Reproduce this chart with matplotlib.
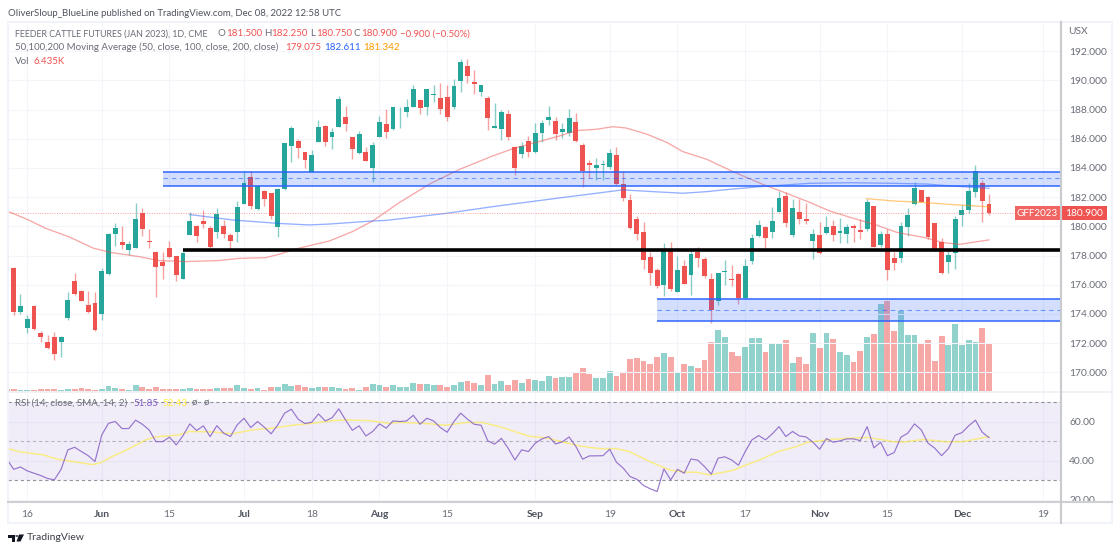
# -*- coding: utf-8 -*-
# Feeder cattle daily chart, TradingView look
import matplotlib
matplotlib.use('Agg')
import matplotlib.pyplot as plt
from matplotlib.lines import Line2D
from matplotlib.patches import Rectangle, Polygon, Circle

plt.rcParams['font.family'] = ['Lato', 'DejaVu Sans']

# candles, one value per trading day
opens = [178.11,177.13,174.16,173.07,174.55,172.70,172.06,172.40,172.08,173.73,
         176.29,175.60,174.60,174.76,174.00,176.74,179.48,178.96,178.41,178.55,
         180.90,179.00,178.25,177.56,178.52,177.95,176.40,179.41,180.00,180.35,
         179.87,179.62,180.05,179.44,179.60,181.54,183.41,181.19,182.45,182.27,
         179.94,182.54,185.48,185.85,185.07,183.75,185.78,186.90,186.12,186.83,
         187.47,186.10,185.00,185.07,183.97,186.12,187.03,186.65,188.02,187.86,
         188.18,188.63,188.18,189.02,188.77,188.86,188.18,189.98,190.98,189.91,
         189.23,188.77,186.76,186.69,187.67,185.46,184.96,185.85,185.09,186.42,
         187.31,187.19,186.47,186.38,187.18,185.56,184.32,183.98,184.23,184.04,
         184.89,182.91,181.83,180.53,179.60,177.91,177.04,175.97,178.34,175.53,
         177.29,176.67,178.25,177.77,176.42,174.92,176.88,176.42,176.77,175.10,
         177.61,179.32,179.96,179.62,180.99,182.08,179.42,181.01,180.53,179.02,
         179.41,179.52,180.00,179.57,179.50,180.00,179.75,179.80,181.39,178.75,
         179.48,177.81,177.83,179.98,181.51,182.49,182.03,180.21,178.95,177.54,
         178.20,180.80,181.14,182.35,182.95,181.50]
closes = [177.18,174.16,174.55,173.66,172.97,172.45,171.67,171.29,172.45,174.98,
          175.37,174.92,174.12,172.91,176.95,179.48,179.87,178.75,178.77,180.49,
          179.82,178.96,177.20,177.27,177.91,176.67,178.20,180.39,179.34,180.19,
          178.57,180.85,179.50,178.98,181.35,182.95,181.40,182.79,181.86,180.71,
          182.54,185.69,186.71,185.34,184.52,184.89,186.81,185.78,186.46,188.75,
          187.01,185.30,186.33,184.50,185.55,187.15,186.44,188.18,188.06,188.18,
          189.43,188.13,189.39,189.07,188.04,187.49,189.61,191.26,190.30,189.75,
          189.68,187.45,186.87,187.83,186.12,184.00,185.50,185.12,186.42,187.08,
          187.47,186.30,186.70,187.40,185.87,183.77,184.23,184.23,184.28,185.01,
          182.91,181.93,179.92,179.46,177.70,176.81,175.94,178.43,175.69,177.04,
          176.08,178.09,177.84,176.60,174.28,176.79,176.95,176.31,175.10,177.29,
          179.21,180.08,179.23,180.39,181.97,180.26,181.26,180.49,180.39,179.45,
          178.18,179.98,179.41,179.66,179.93,179.91,179.64,181.69,178.61,179.48,
          177.01,177.49,180.00,180.78,182.63,181.69,179.25,178.31,176.83,178.02,
          180.48,181.10,182.44,183.79,181.76,180.90]
highs = [178.20,177.20,175.35,173.93,174.60,172.84,172.54,172.79,172.50,175.53,
         176.79,175.65,175.55,175.49,177.13,179.53,180.21,180.03,179.00,181.63,
         181.24,179.85,178.30,178.25,179.00,178.00,178.27,181.01,180.10,181.10,
         180.03,181.26,180.44,179.53,181.72,183.82,183.82,182.84,182.50,182.30,
         182.60,185.73,186.90,185.96,185.10,185.21,187.29,186.95,186.71,188.91,
         188.24,186.15,186.51,185.41,185.76,187.54,188.04,188.20,188.15,188.70,
         189.71,188.65,189.43,189.66,189.80,189.71,190.07,191.44,191.49,190.71,
         189.70,188.95,188.47,187.97,187.95,185.50,185.80,186.19,187.10,187.26,
         188.24,187.51,187.06,188.04,187.79,185.71,184.55,184.66,184.55,185.30,
         185.42,183.82,182.22,180.71,180.30,178.27,177.13,178.84,178.91,178.00,
         177.70,178.29,178.57,177.93,176.79,176.83,177.70,177.36,176.80,177.75,
         179.46,180.44,180.00,181.35,182.43,182.38,181.90,181.86,181.58,179.80,
         180.32,180.73,180.44,180.60,180.16,180.16,180.53,181.87,181.40,179.68,
         179.80,178.27,180.27,181.23,183.06,182.50,182.05,180.25,179.23,178.38,
         180.73,181.46,182.95,184.20,183.18,182.25]
lows = [177.10,173.93,174.00,172.72,172.91,172.08,171.63,170.85,171.08,173.59,
        175.30,174.90,174.05,172.86,173.59,176.65,178.66,178.43,178.02,178.52,
        179.34,178.55,175.19,176.40,177.84,176.29,176.38,179.40,178.96,179.87,
        178.50,179.18,179.18,178.39,178.93,181.50,181.17,181.15,181.40,180.53,
        179.30,182.50,184.39,184.71,184.00,183.70,185.75,185.50,185.28,186.80,
        186.53,184.59,184.96,184.50,183.06,186.10,186.08,186.60,186.76,187.51,
        188.15,187.72,187.65,188.54,187.72,187.22,188.06,189.18,189.80,189.04,
        188.95,186.60,186.71,185.92,185.92,183.54,184.66,184.77,185.05,185.80,
        186.94,185.92,186.03,186.19,185.81,182.72,183.29,183.18,183.18,183.91,
        182.82,181.72,179.85,179.07,177.06,175.99,175.81,175.24,175.60,175.50,
        176.03,175.30,177.24,176.49,173.41,174.60,176.01,175.94,174.69,175.05,
        177.40,179.28,178.43,179.18,180.97,179.98,179.30,180.17,180.17,177.76,
        178.11,179.45,179.02,178.84,178.84,178.95,179.13,179.70,178.56,178.59,
        176.33,177.01,177.58,179.34,181.46,181.65,179.16,178.30,176.74,176.78,
        177.10,180.05,180.92,181.99,180.32,180.75]
# volume in thousands
volumes = [0.31,0.36,0.22,0.18,0.22,0.27,0.27,0.27,0.18,0.27,
           0.36,0.44,0.27,0.18,0.36,0.75,0.44,0.40,0.22,0.84,
           0.67,0.40,0.67,0.27,0.36,0.36,0.36,0.44,0.36,0.40,
           0.36,0.49,0.49,0.49,0.84,0.49,0.40,0.49,0.22,0.58,
           0.58,0.98,0.80,0.84,0.58,0.49,0.58,0.58,0.58,0.49,
           0.40,0.49,0.22,0.67,1.02,0.84,0.58,0.84,0.58,0.58,
           1.11,1.02,1.02,0.93,0.93,0.67,0.93,1.29,1.38,1.11,
           0.93,2.22,1.02,1.38,0.93,1.55,1.20,1.64,1.55,1.42,
           2.13,1.86,2.00,2.00,2.49,3.20,2.35,1.86,1.86,2.80,
           2.09,2.62,4.39,4.48,4.08,3.64,4.66,5.15,4.57,2.62,
           3.73,3.37,3.11,4.22,6.61,8.21,7.37,5.33,4.75,5.90,
           7.19,7.19,5.24,6.35,6.52,6.97,3.82,4.66,3.64,7.81,
           5.77,7.81,7.06,5.33,4.93,3.95,5.37,7.37,7.72,11.67,
           12.16,8.08,10.74,7.54,7.54,6.39,6.88,4.08,7.50,6.21,
           9.05,6.30,6.88,6.70,8.48,6.435]
rsi = [40.8,35.6,36.8,34.8,33.6,32.4,30.9,30.2,35.6,45.6,
       46.9,44.7,42.6,39.6,53.2,59.2,60.1,56.5,56.5,60.8,
       58.7,55.8,49.8,49.8,52.1,48.1,52.9,58.9,55.5,57.9,
       52.4,58.0,54.1,52.4,58.4,61.8,57.0,60.1,57.2,53.8,
       58.4,64.4,66.4,61.3,59.1,59.7,64.0,60.4,62.0,66.6,
       60.9,55.6,57.9,52.7,55.0,58.9,56.7,60.4,60.1,60.4,
       63.3,58.7,61.8,60.4,57.0,54.6,60.1,64.4,61.3,58.7,
       58.2,50.2,48.5,51.5,46.4,40.4,45.6,44.7,49.0,51.2,
       52.4,48.6,49.7,52.2,47.3,40.8,42.5,42.5,42.6,45.9,
       39.2,36.2,31.9,30.5,27.3,25.6,24.2,35.8,30.2,35.6,
       33.6,40.9,40.3,37.0,33.1,41.3,42.0,40.4,37.7,44.7,
       50.7,52.9,50.7,53.8,57.5,52.4,55.0,52.7,52.2,49.5,
       45.9,51.4,49.5,50.2,51.2,51.2,50.3,57.5,46.6,49.5,
       42.6,44.2,52.1,54.1,58.9,55.8,49.0,46.4,42.6,46.2,
       53.1,54.4,57.9,60.8,54.6,51.85]

# moving averages, read at the bends only
ma50_idx = [0,3.2,5.7,9.1,12.8,15.5,19.5,22.4,26.4,31.3,34.3,38.2,40.2,42.6,47.6,51,54,57.9,62.4,66.8,
            71.7,74.7,77.6,81.6,84,87,89.5,91.4,94.4,97.4,99.8,103.3,107.2,111.6,115.1,118.5,
            121.5,125,128.4,131.4,135.3,138.3,140.7,143.2,145]
ma50_val = [181.06,180.44,179.87,179.30,178.50,178.20,177.93,177.66,177.59,177.66,177.81,177.86,178.09,
            178.45,179.00,179.64,180.37,181.62,182.90,183.90,184.82,185.32,185.69,186.19,186.56,186.65,
            186.83,186.74,186.33,185.76,185.12,184.60,183.75,182.88,182.27,181.65,181.05,180.55,180.09,
            179.59,179.25,178.88,178.77,178.95,179.075]
ma100_idx = [27,33.3,40.2,44.6,47.6,54,56,64.8,71.7,81.6,85,90.9,95.4,99.8,103.3,106.7,111.2,115.6,118.5,
             124.5,130.9,135.8,139.7,145]
ma100_val = [180.81,180.44,180.20,180.10,180.16,180.37,180.41,180.89,181.35,181.95,182.15,182.50,182.38,
             182.27,182.38,182.54,182.72,182.86,182.95,182.99,182.95,182.90,182.76,182.611]
ma200_idx = [126.9,130.9,133.3,135.8,139.7,145]
ma200_val = [181.90,181.74,181.69,181.62,181.49,181.342]
rsi_ma_idx = [0,1.7,3.2,5.4,7.4,10.1,12.6,13.8,15.5,17.7,20.5,21.9,25.4,26.9,30.3,33.3,36.2,39.2,41.6,45.1,
              48.1,50,53.5,56.4,57.9,61.9,64.8,67.8,70.2,72.7,77.1,79.6,84.5,87.5,90,91.9,94.9,97.8,100.3,
              101.8,103.8,107.2,109.2,111.1,113.9,116.6,118,121,124,127,129.4,130.9,132.8,135.3,138.8,141.2,145]
rsi_ma_val = [46.4,44.7,44.0,43.0,40.8,39.4,38.0,38.9,42.1,45.6,50.7,52.2,53.2,55.0,54.8,53.8,55.8,56.7,58.0,
              59.2,60.6,60.9,60.6,59.2,59.7,59.1,58.2,59.6,59.6,57.5,52.6,51.7,47.6,46.2,46.2,44.7,39.6,35.3,
              34.1,34.1,32.7,35.1,37.9,40.4,44.7,47.3,49.3,50.7,51.5,51.9,50.7,49.7,49.7,50.9,49.7,49.8,52.43]

# support / resistance drawings: bar where they start, prices
zone_top = [23, 183.75, 183.29, 182.79]
zone_bottom = [96, 175.05, 174.28, 173.50]
black_line = [26, 178.38]
last_price = 180.9

price_ticks = [170,172,174,176,178,180,182,184,186,188,190,192]
rsi_ticks = [20,40,60]
x_ticks = [3,14,24,35,45,55,65,78,89,99,109,120,130,141,153]
x_labels = ['16','Jun','15','Jul','18','Aug','15','Sep','19','Oct','17','Nov','15','Dec','19']
months = ['Jun','Jul','Aug','Sep','Oct','Nov','Dec']

GREEN = '#26a69a'
RED = '#ef5350'
BLUE = '#2962ff'
GRID = '#f3f5fa'
TXT = '#6a6d78'
W, H = 1120, 552


def fx(x):
    return x / W


def fy(y):
    return 1 - y / H


def label(x, y, s, color=TXT, size=7.05, **kw):
    kw.setdefault('va', 'center')
    fig.text(fx(x), fy(y), s, color=color, fontsize=size, **kw)


fig = plt.figure(figsize=(W / 100, H / 100), dpi=100, facecolor='white')
ax_vol = fig.add_axes([fx(8), fy(391.5), fx(1053), 369.5 / H])
ax = ax_vol.twinx()
ax_rsi = fig.add_axes([fx(8), fy(501.5), fx(1053), 110 / H])

days = list(range(len(opens)))
colors = [GREEN if c >= o else RED for o, c in zip(opens, closes)]
xlim = (0.158, 155.63)

# volume at the bottom of the price pane
ax_vol.bar(days, volumes, width=0.86, color=colors, alpha=0.5, linewidth=0)
ax_vol.set_ylim(0, 369.5 / 7.46)
ax_vol.set_yticks([])
ax_vol.set_xlim(xlim)
ax_vol.set_xticks(x_ticks)
ax_vol.tick_params(labelbottom=False, length=0)
ax_vol.grid(True, axis='x', color=GRID, lw=0.8)
ax_vol.set_axisbelow(True)

# price pane
ax.patch.set_visible(False)
ax.set_xlim(xlim)
ax.set_ylim(168.69, 194.0)
ax.set_yticks(price_ticks)
ax.set_yticklabels(['%.3f' % p for p in price_ticks])
ax.yaxis.tick_right()
ax.tick_params(axis='y', length=0, pad=6, labelsize=7.4, labelcolor=TXT)
ax.grid(True, axis='y', color=GRID, lw=0.8)
ax.set_axisbelow(True)

ax.vlines(days, lows, highs, colors=colors, lw=1.0, alpha=0.55, zorder=2)
bodies = [abs(c - o) for o, c in zip(opens, closes)]
ax.bar(days, bodies, bottom=[min(o, c) for o, c in zip(opens, closes)], width=0.72,
       color=colors, linewidth=0, zorder=3)

ax.plot(ma50_idx, ma50_val, color=RED, lw=0.95, alpha=0.5, zorder=4)
ax.plot(ma100_idx, ma100_val, color=BLUE, lw=0.95, alpha=0.5, zorder=4)
ax.plot(ma200_idx, ma200_val, color='#ff9800', lw=0.95, alpha=0.5, zorder=4)
ax.hlines(last_price, xlim[0], xlim[1], colors=RED, linestyles=(0, (1, 1.5)), lw=0.7, alpha=0.55, zorder=4)

for start, top, mid, bottom in (zone_top, zone_bottom):
    ax.fill_between([start, xlim[1]], bottom, top, color=BLUE, alpha=0.2, linewidth=0, zorder=5)
    ax.hlines([top, bottom], start, xlim[1], colors=BLUE, lw=1.2, alpha=0.9, zorder=6)
    ax.hlines(mid, start, xlim[1], colors=BLUE, linestyles=(0, (4, 3.5)), lw=0.8, alpha=0.6, zorder=6)
ax.hlines(black_line[1], black_line[0], xlim[1], colors='black', lw=2.6, zorder=6)

# RSI pane
ax_rsi.set_xlim(xlim)
ax_rsi.set_ylim(19.1, 75.5)
ax_rsi.axhspan(30, 70, color='#7e57c2', alpha=0.1, linewidth=0, zorder=1)
ax_rsi.hlines([30, 70], xlim[0], xlim[1], colors='#787b86', linestyles=(0, (3, 2.5)), lw=0.8, alpha=0.8, zorder=2)
ax_rsi.hlines(50, xlim[0], xlim[1], colors='#787b86', linestyles=(0, (3, 2.5)), lw=0.8, alpha=0.5, zorder=2)
ax_rsi.plot(rsi_ma_idx, rsi_ma_val, color='#ffeb3b', lw=1.1, alpha=0.6, zorder=3)
ax_rsi.plot(days, rsi, color='#7e57c2', lw=0.85, alpha=0.8, zorder=4)
ax_rsi.set_yticks(rsi_ticks)
ax_rsi.set_yticklabels(['%.2f' % r for r in rsi_ticks])
ax_rsi.yaxis.tick_right()
ax_rsi.tick_params(axis='y', length=0, pad=6, labelsize=7.4, labelcolor=TXT)
ax_rsi.set_xticks(x_ticks)
ax_rsi.set_xticklabels(x_labels)
ax_rsi.tick_params(axis='x', length=0, pad=6, labelsize=7.4, labelcolor=TXT)
for t in ax_rsi.get_xticklabels():
    if t.get_text() in months:
        t.set_fontweight('bold')
        t.set_color('#50535e')
ax_rsi.grid(True, color=GRID, lw=0.8)
ax_rsi.set_axisbelow(True)

for a in (ax_vol, ax, ax_rsi):
    for s in a.spines.values():
        s.set_visible(False)

# frame and pane separators
for xs, ys, c, lw in [([8, 1112], [22, 22], '#f0f3fa', 1.4),
                      ([8, 8], [22, 523], '#f0f3fa', 1.4),
                      ([1112, 1112], [22, 523], '#f0f3fa', 1.4),
                      ([8, 1112], [523, 523], '#f0f3fa', 1.4),
                      ([8, 1112], [391.5, 391.5], '#eff1f5', 1.4),
                      ([8, 1112], [501.7, 501.7], '#cfd0d3', 1.5),
                      ([1061, 1061], [22, 523], '#c9cacd', 1.5)]:
    fig.add_artist(Line2D([fx(x) for x in xs], [fy(y) for y in ys], color=c, lw=lw))

# header and legends
label(8, 13, 'OliverSloup_BlueLine published on TradingView.com, Dec 08, 2022 12:58 UTC', color='#50535e', size=6.9)
label(15, 34, 'FEEDER CATTLE FUTURES (JAN 2023), 1D, CME', size=6.4)
for x, s in [(218, 'O'), (264, 'H'), (310, 'L'), (354, 'C')]:
    label(x, 34, s)
for x, s in [(226, '181.500'), (271, '182.250'), (316, '180.750'), (361, '180.900'), (400, '\u22120.900 (\u22120.50%)')]:
    label(x, 34, s, color=RED)
label(15, 47, '50,100,200 Moving Average (50, close, 100, close, 200, close)')
label(285, 47, '179.075', color=RED)
label(324, 47, '182.611', color=BLUE)
label(363, 47, '181.342', color='#ff9800')
label(15, 61, 'Vol')
label(33, 61, '6.435K', color=RED)
label(15, 403, 'RSI (14, close, SMA, 14, 2)')
label(133, 403, '51.85', color='#7e57c2')
label(162, 403, '52.43', color='#ffeb3b')
label(192, 403, '\u00f8', size=7.05)
label(204, 403, '\u00f8', size=7.05)
label(1068, 32, 'USX', size=7.4)

# last price tags
fig.add_artist(Rectangle((fx(1015), fy(220)), fx(45), 13.5 / H, transform=fig.transFigure, color=RED, alpha=0.9, lw=0))
fig.add_artist(Rectangle((fx(1061), fy(220)), fx(46), 13.5 / H, transform=fig.transFigure, color=RED, lw=0))
label(1037.5, 213.3, 'GFF2023', color='white', ha='center', size=7.1)
label(1084, 213.3, '180.900', color='white', ha='center', size=7.4)

# TradingView logo
logo = '#131722'
fig.add_artist(Polygon([(fx(8), fy(534.5)), (fx(15), fy(534.5)), (fx(15), fy(541.5)), (fx(11.5), fy(541.5)),
                        (fx(11.5), fy(537.5)), (fx(8), fy(537.5))], transform=fig.transFigure, color=logo, lw=0))
fig.add_artist(Circle((fx(16.8), fy(536)), 1.5 / W, transform=fig.transFigure, color=logo, lw=0))
fig.add_artist(Polygon([(fx(19), fy(534.5)), (fx(24), fy(534.5)), (fx(20.5), fy(541.5)), (fx(16.5), fy(541.5))],
                       transform=fig.transFigure, color=logo, lw=0))
label(27, 538, 'TradingView', color='#3c3f48', size=7.5)

fig.savefig('out.png', dpi=100)
